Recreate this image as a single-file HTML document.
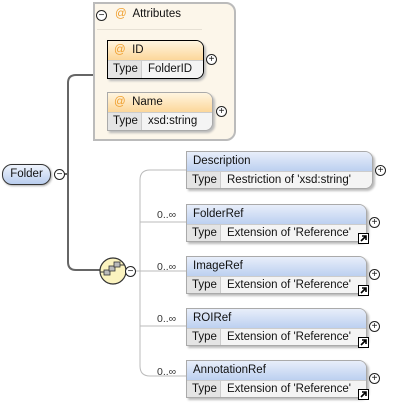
<!DOCTYPE html>
<html><head><meta charset="utf-8"><style>
body{margin:0;width:404px;height:403px;background:#fff;position:relative;overflow:hidden;font-family:"Liberation Sans",sans-serif;font-size:11.5px;color:#111}
.a{position:absolute}
.box{position:absolute;border:1px solid #aaa;border-radius:0 8px 8px 0;overflow:hidden;box-shadow:2px 2px 2px #bbb;background:#f2f2f2}
.hd{height:19px;line-height:19px;padding-left:6px;border-bottom:1px solid #ccc}
.blue{background:linear-gradient(#e8eefa,#bcd0f0)}
.org{background:linear-gradient(#fff5e0,#fcd79a)}
.row{height:17px;line-height:17px;display:flex}
.row .t{width:28px;padding-left:5px;background:#e4e4e4;border-right:1px solid #ccc}
.row .v{padding-left:6px;background:#f4f4f4;flex:1;white-space:nowrap}
.pl{position:absolute;width:9px;height:9px;border:1px solid #222;border-radius:50%;font-size:10px;line-height:9px;text-align:center;background:#fff}
.lk{position:absolute}
.at{color:#f0a030}
.m{position:absolute;font-size:10.5px;color:#333}
</style></head><body>
<svg class="a" style="left:0;top:0" width="404" height="403">
<path d="M63 174 H68 M93 75 H76 Q68 75 68 83 V262 Q68 270 76 270 H100" stroke="#666" stroke-width="2" fill="none"/>
<path d="M136 271 H186 M186 170 H150 Q140 170 140 180 V366 Q140 376 150 376 H186 M140 222 H186 M140 326 H186" stroke="#bbb" stroke-width="1" fill="none"/>
<circle cx="113" cy="271" r="13" fill="#fbf3bf" stroke="#333" stroke-width="1.2"/>
<rect x="104" y="270" width="6" height="5" fill="#bbb" stroke="#333" stroke-width=".8"/>
<rect x="109" y="266" width="6" height="5" fill="#bbb" stroke="#333" stroke-width=".8"/>
<rect x="114" y="262" width="6" height="5" fill="#bbb" stroke="#333" stroke-width=".8"/>
<path d="M100 272 H104 M120 265 H124" stroke="#333"/>
</svg>
<div class="a" style="left:93px;top:2px;width:139px;height:135px;border:2px solid #bbb;border-radius:0 10px 10px 0;background:#fcf6ea"></div>
<div class="pl" style="left:96px;top:10px">−</div>
<div class="a" style="left:115px;top:8px"><span class="at">@</span>&nbsp; Attributes</div>
<div class="a" style="left:97px;top:29px;width:105px;height:1px;background:#e6e0d4"></div>
<div class="box" style="left:107px;top:40px;width:95px;height:37px;border-color:#000">
<div class="hd org"><span class="at">@</span>&nbsp; ID</div><div class="row"><div class="t">Type</div><div class="v">FolderID</div></div></div>
<div class="pl" style="left:206px;top:54px">+</div>
<div class="box" style="left:107px;top:92px;width:104px;height:37px">
<div class="hd org"><span class="at">@</span>&nbsp; Name</div><div class="row"><div class="t">Type</div><div class="v">xsd:string</div></div></div>
<div class="pl" style="left:216px;top:106px">+</div>
<div class="a" style="left:2px;top:164px;width:47px;height:19px;border:1px solid #333;border-radius:10px;background:linear-gradient(#eef3fc,#b9cdee);line-height:19px;text-align:center;box-shadow:1px 1px 2px #aaa">Folder</div>
<div class="pl" style="left:54px;top:169px">−</div>
<div class="pl" style="left:125px;top:266px">−</div>
<div class="box" style="left:186px;top:151px;width:185px;height:36px"><div class="hd blue">Description</div><div class="row"><div class="t">Type</div><div class="v">Restriction of 'xsd:string'</div></div></div>
<div class="pl" style="left:375px;top:165px">+</div>

<div class="m" style="left:157px;top:209px">0..∞</div>
<div class="box" style="left:186px;top:204px;width:179px;height:36px"><div class="hd blue">FolderRef</div><div class="row"><div class="t">Type</div><div class="v">Extension of 'Reference'</div></div></div>
<div class="pl" style="left:369px;top:217px">+</div>
<svg class="lk" style="left:358px;top:233px" width="11" height="11"><rect x=".5" y=".5" width="10" height="10" fill="#fff" stroke="#000"/><path d="M3 8 L8 3 M4 3 H8 V7" stroke="#000" stroke-width="1.6" fill="none"/></svg>

<div class="m" style="left:157px;top:261px">0..∞</div>
<div class="box" style="left:186px;top:256px;width:179px;height:36px"><div class="hd blue">ImageRef</div><div class="row"><div class="t">Type</div><div class="v">Extension of 'Reference'</div></div></div>
<div class="pl" style="left:369px;top:269px">+</div>
<svg class="lk" style="left:358px;top:285px" width="11" height="11"><rect x=".5" y=".5" width="10" height="10" fill="#fff" stroke="#000"/><path d="M3 8 L8 3 M4 3 H8 V7" stroke="#000" stroke-width="1.6" fill="none"/></svg>

<div class="m" style="left:157px;top:313px">0..∞</div>
<div class="box" style="left:186px;top:308px;width:179px;height:36px"><div class="hd blue">ROIRef</div><div class="row"><div class="t">Type</div><div class="v">Extension of 'Reference'</div></div></div>
<div class="pl" style="left:369px;top:321px">+</div>
<svg class="lk" style="left:358px;top:337px" width="11" height="11"><rect x=".5" y=".5" width="10" height="10" fill="#fff" stroke="#000"/><path d="M3 8 L8 3 M4 3 H8 V7" stroke="#000" stroke-width="1.6" fill="none"/></svg>

<div class="m" style="left:157px;top:366px">0..∞</div>
<div class="box" style="left:186px;top:360px;width:179px;height:36px"><div class="hd blue">AnnotationRef</div><div class="row"><div class="t">Type</div><div class="v">Extension of 'Reference'</div></div></div>
<div class="pl" style="left:369px;top:373px">+</div>
<svg class="lk" style="left:358px;top:389px" width="11" height="11"><rect x=".5" y=".5" width="10" height="10" fill="#fff" stroke="#000"/><path d="M3 8 L8 3 M4 3 H8 V7" stroke="#000" stroke-width="1.6" fill="none"/></svg>
</body></html>
